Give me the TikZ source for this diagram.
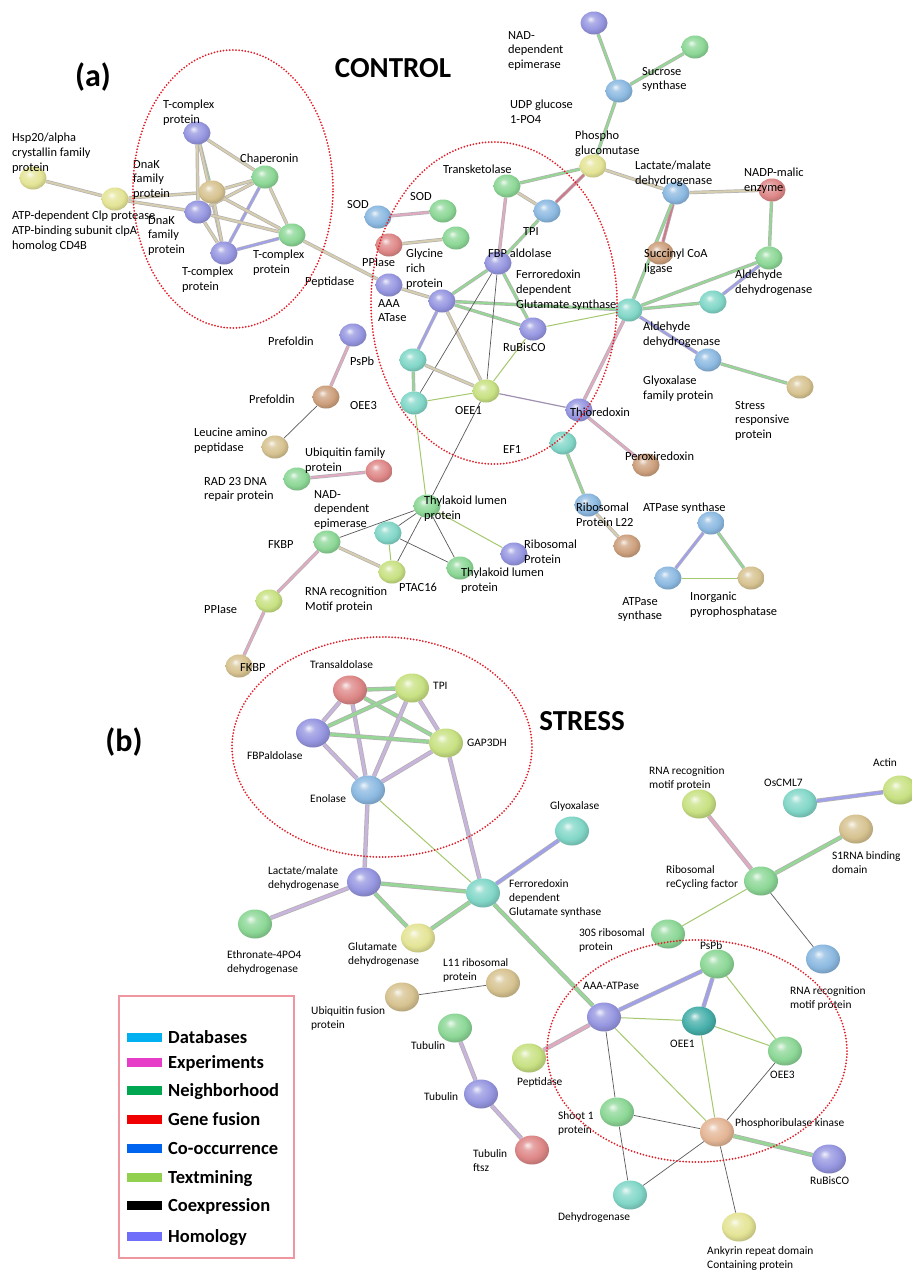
\documentclass[tikz,border=0pt]{standalone}
\usepackage{fontspec}
\setmainfont{Carlito}
\usetikzlibrary{shapes.geometric,backgrounds}
\definecolor{cblue}{RGB}{150,150,225}
\definecolor{cgreen}{RGB}{140,215,150}
\definecolor{cyelgr}{RGB}{200,225,130}
\definecolor{cpaleyel}{RGB}{228,228,150}
\definecolor{ctan}{RGB}{215,195,145}
\definecolor{cred}{RGB}{222,135,135}
\definecolor{clblue}{RGB}{140,185,225}
\definecolor{ccyan}{RGB}{130,215,200}
\definecolor{cbrown}{RGB}{205,160,125}
\definecolor{cpeach}{RGB}{228,182,150}
\definecolor{cteal}{RGB}{70,175,170}
\definecolor{bgreen}{RGB}{150,215,150}
\definecolor{bpink}{RGB}{225,170,195}
\definecolor{bblue}{RGB}{160,160,235}
\definecolor{bbeige}{RGB}{215,205,175}
\definecolor{bmix}{RGB}{200,180,220}
\definecolor{bred}{RGB}{210,120,140}
\definecolor{tgreen}{RGB}{165,200,110}
\definecolor{lgdb}{RGB}{0,176,240}
\definecolor{lgex}{RGB}{230,60,200}
\definecolor{lgnb}{RGB}{0,166,80}
\definecolor{lggf}{RGB}{240,0,0}
\definecolor{lgco}{RGB}{0,100,240}
\definecolor{lgtm}{RGB}{146,208,80}
\definecolor{lghm}{RGB}{110,110,250}
\definecolor{legb}{RGB}{240,150,160}
\definecolor{dotred}{RGB}{225,30,40}
\colorlet{sbcol}{gray}
\pgfdeclareradialshading[sbcol]{sball}{\pgfpoint{-7bp}{9bp}}{color(0bp)=(sbcol!15!white); color(8bp)=(sbcol!75!white); color(20bp)=(sbcol); color(28bp)=(sbcol!85!black); color(50bp)=(sbcol!62!black)}
\newcommand{\ctlfont}{\fontsize{12.4}{14.7}\selectfont}
\newcommand{\strfont}{\fontsize{11.4}{13.9}\selectfont}
\begin{document}
\begin{tikzpicture}[x=1pt,y=-1pt,
  bl/.style={ellipse, minimum width=27pt, minimum height=23pt, inner sep=0pt, shading=sball, /utils/exec={\colorlet{sbcol}{#1}}},
  sb/.style={bl=#1, minimum width=34pt, minimum height=29pt},
  lab/.style={anchor=north west, inner sep=0pt, align=left, font=\ctlfont},
  slab/.style={lab, font=\strfont},
  ek/.style={draw=black!30, line width=0.7pt, double=#1, double distance=2pt},
  ekk/.style={draw=black!30, line width=0.8pt, double=#1, double distance=2.8pt},
  et/.style={draw=black!65, line width=0.7pt},
  eg/.style={draw=tgreen, line width=1pt},
  redd/.style={draw=dotred, line width=2pt, line cap=round, dash pattern=on 0pt off 3.1pt},
  legt/.style={anchor=base west, inner sep=0pt, font=\fontsize{18.5}{20}\selectfont\bfseries},
  legk/.style={fill=#1, minimum width=35pt, minimum height=9pt, inner sep=0pt, anchor=west}]
\useasboundingbox (0,0) rectangle (912,1272);

% ---------- control balls ----------
\node[bl=cpaleyel] (hsp) at (33,178) {};
\node[bl=cpaleyel] (clp) at (115,199) {};
\node[bl=cblue] (tct) at (197,133) {};
\node[bl=cgreen] (chap) at (265,177) {};
\node[bl=ctan] (dnkA) at (212,192) {};
\node[bl=cblue] (dnkB) at (198,212) {};
\node[bl=cblue] (tcb) at (224,253) {};
\node[bl=cgreen] (tcr) at (292,235) {};
\node[bl=clblue] (sodA) at (378,217) {};
\node[bl=cgreen] (sodB) at (443,211) {};
\node[bl=cred] (ppi) at (389,245) {};
\node[bl=cgreen] (gly) at (456,238) {};
\node[bl=cblue] (aaa) at (389,285) {};
\node[bl=cblue] (hubA) at (442,301) {};
\node[bl=cblue] (fbp) at (498,263) {};
\node[bl=cgreen] (tkl) at (507,186) {};
\node[bl=clblue] (tpi) at (547,211) {};
\node[bl=cpaleyel] (pgm) at (593,166) {};
\node[bl=cblue] (nadt) at (594,23) {};
\node[bl=cgreen] (sucr) at (695,47) {};
\node[bl=clblue] (udp) at (619,91) {};
\node[bl=clblue] (lact) at (676,193) {};
\node[bl=cred] (nadp) at (772,190) {};
\node[bl=cbrown] (succ) at (660,253) {};
\node[bl=cgreen] (aldA) at (769,258) {};
\node[bl=ccyan] (aldB) at (713,302) {};
\node[bl=ccyan] (fgs) at (629,310) {};
\node[bl=cblue] (rub) at (533,329) {};
\node[bl=ccyan] (gA) at (413,360) {};
\node[bl=ccyan] (gB) at (414,403) {};
\node[bl=cyelgr] (oee1) at (486,391) {};
\node[bl=clblue] (glyx) at (708,360) {};
\node[bl=ctan] (strp) at (800,387) {};
\node[bl=cblue] (thio) at (579,410) {};
\node[bl=ccyan] (ef1) at (563,443) {};
\node[bl=cbrown] (perx) at (646,465) {};
\node[bl=clblue] (rl22) at (588,505) {};
\node[bl=cbrown] (rbr) at (627,546) {};
\node[bl=cblue] (pspb) at (353,335) {};
\node[bl=cbrown] (oee3) at (326,397) {};
\node[bl=ctan] (leu) at (275,447) {};
\node[bl=cgreen] (ubg) at (297,479) {};
\node[bl=cred] (ubr) at (379,471) {};
\node[bl=cgreen] (nad2) at (327,542) {};
\node[bl=cgreen] (thy) at (427,506) {};
\node[bl=ccyan] (cyb) at (388,533) {};
\node[bl=cyelgr] (ptac) at (392,572) {};
\node[bl=cgreen] (thy2) at (460,568) {};
\node[bl=cblue] (ribp) at (514,554) {};
\node[bl=cyelgr] (ppi2) at (269,601) {};
\node[bl=ctan] (fkbp) at (239,666) {};
\node[bl=clblue] (atpT) at (711,523) {};
\node[bl=clblue] (atpL) at (668,578) {};
\node[bl=ctan] (atpR) at (751,578) {};

% ---------- stress balls ----------
\node[sb=cred] (tald) at (350,690) {};
\node[sb=cyelgr] (stpi) at (412,688) {};
\node[sb=cblue] (fbpa) at (313,733) {};
\node[sb=cyelgr] (gap) at (446,743) {};
\node[sb=clblue] (enol) at (368,790) {};
\node[sb=ccyan] (sglx) at (572,831) {};
\node[sb=cblue] (slac) at (364,882) {};
\node[sb=ccyan] (sfgs) at (483,893) {};
\node[sb=cgreen] (ethr) at (255,924) {};
\node[sb=cpaleyel] (glud) at (418,938) {};
\node[sb=ctan] (l11) at (503,983) {};
\node[sb=ctan] (ubf) at (402,997) {};
\node[sb=cgreen] (tubA) at (455,1028) {};
\node[sb=cblue] (tubB) at (481,1094) {};
\node[sb=cred] (tubC) at (532,1150) {};
\node[sb=cyelgr] (spep) at (529,1058) {};
\node[sb=cblue] (saaa) at (604,1017) {};
\node[sb=cteal] (soee1) at (699,1021) {};
\node[sb=cgreen] (soee3) at (785,1051) {};
\node[sb=cgreen] (spspb) at (717,964) {};
\node[sb=cgreen] (shoot) at (617,1112) {};
\node[sb=cpeach] (prk) at (717,1132) {};
\node[sb=cblue] (srub) at (829,1159) {};
\node[sb=ccyan] (sdeh) at (630,1195) {};
\node[sb=cpaleyel] (ank) at (739,1227) {};
\node[sb=cyelgr] (rrmA) at (699,804) {};
\node[sb=ccyan] (osc) at (800,803) {};
\node[sb=cyelgr] (act) at (900,790) {};
\node[sb=ctan] (sone) at (856,829) {};
\node[sb=cgreen] (rrf) at (761,881) {};
\node[sb=cgreen] (sthirty) at (668,934) {};
\node[sb=clblue] (rrmB) at (823,959) {};

% ---------- connectors ----------
\begin{pgfonlayer}{background}
\fill[white] (0,0) rectangle (912,1272);
\draw[ek=bbeige] (hsp) -- (clp);
\draw[ek=bbeige] (clp) -- (dnkA);
\draw[ek=bbeige] (clp) -- (dnkB);
\draw[ek=bbeige] (tct) -- (chap);
\draw[ek=bgreen] (tct) -- (dnkA);
\draw[ek=bbeige] (tct) -- (dnkB);
\draw[ek=bbeige] (tct) -- (tcb);
\draw[ek=bbeige] (chap) -- (dnkA);
\draw[ek=bbeige] (chap) -- (dnkB);
\draw[ek=bblue] (chap) -- (tcb);
\draw[ek=bbeige] (chap) -- (tcr);
\draw[ek=bbeige] (dnkA) -- (dnkB);
\draw[ek=bbeige] (dnkA) -- (tcb);
\draw[ek=bbeige] (dnkA) -- (tcr);
\draw[ek=bbeige] (dnkB) -- (tcb);
\draw[ek=bbeige] (dnkB) -- (tcr);
\draw[ek=bblue] (tcb) -- (tcr);
\draw[ek=bbeige] (tcr) -- (aaa);
\draw[ek=bbeige] (aaa) -- (hubA);
\draw[ek=bpink] (sodA) -- (sodB);
\draw[ek=bbeige] (ppi) -- (gly);
\draw[ek=bgreen] (hubA) -- (fbp);
\draw[ek=bgreen] (hubA) -- (fgs);
\draw[ek=bgreen] (hubA) -- (rub);
\draw[ek=bblue] (hubA) -- (gA);
\draw[ek=bbeige] (hubA) -- (oee1);
\draw[ek=bpink] (fbp) -- (tkl);
\draw[ek=bgreen] (fbp) -- (tpi);
\draw[ek=bgreen] (fbp) -- (rub);
\draw[et] (fbp) -- (gB);
\draw[et] (fbp) -- (oee1);
\draw[ek=bbeige] (tkl) -- (tpi);
\draw[ek=bgreen] (tkl) -- (pgm);
\draw[ek=bred] (tpi) -- (pgm);
\draw[ek=bgreen] (pgm) -- (udp);
\draw[ek=bgreen] (udp) -- (nadt);
\draw[ek=bgreen] (udp) -- (sucr);
\draw[ek=bbeige] (pgm) -- (lact);
\draw[ek=bbeige] (lact) -- (nadp);
\draw[ek=bred] (lact) -- (succ);
\draw[ek=bgreen] (lact) -- (fgs);
\draw[ek=bgreen] (nadp) -- (aldA);
\draw[ek=bgreen] (aldA) -- (fgs);
\draw[ek=bblue] (aldA) -- (aldB);
\draw[ek=bgreen] (aldB) -- (fgs);
\draw[eg] (fgs) -- (rub);
\draw[ek=bpink] (fgs) -- (thio);
\draw[ek=bblue] (fgs) -- (glyx);
\draw[ek=bgreen] (glyx) -- (strp);
\draw[draw=bmix!80!black, line width=1.2pt] (thio) -- (oee1);
\draw[ek=bpink] (thio) -- (perx);
\draw[ek=bgreen] (ef1) -- (rl22);
\draw[ek=bbeige] (rl22) -- (rbr);
\draw[ek=bgreen] (gA) -- (gB);
\draw[ek=bbeige] (gA) -- (oee1);
\draw[eg] (gB) -- (oee1);
\draw[eg] (rub) -- (oee1);
\draw[eg] (gB) -- (thy);
\draw[et] (oee1) -- (thy);
\draw[et] (thy) -- (cyb);
\draw[et] (thy) -- (ptac);
\draw[et] (thy) -- (thy2);
\draw[eg] (thy) -- (ribp);
\draw[et] (thy) -- (nad2);
\draw[eg] (cyb) -- (ptac);
\draw[et] (cyb) -- (thy2);
\draw[ek=bbeige] (nad2) -- (ptac);
\draw[ek=bpink] (nad2) -- (ppi2);
\draw[ek=bpink] (ppi2) -- (fkbp);
\draw[ek=bpink] (pspb) -- (oee3);
\draw[et] (oee3) -- (leu);
\draw[ek=bpink] (ubg) -- (ubr);
\draw[ek=bblue] (atpT) -- (atpL);
\draw[ek=bgreen] (atpT) -- (atpR);
\draw[eg] (atpL) -- (atpR);
% stress
\draw[ekk=bgreen] (tald) -- (stpi);
\draw[ekk=bmix] (tald) -- (fbpa);
\draw[ekk=bgreen] (tald) -- (gap);
\draw[ekk=bmix] (tald) -- (enol);
\draw[ekk=bgreen] (stpi) -- (fbpa);
\draw[ekk=bmix] (stpi) -- (gap);
\draw[ekk=bmix] (stpi) -- (enol);
\draw[ekk=bgreen] (fbpa) -- (gap);
\draw[ekk=bmix] (fbpa) -- (enol);
\draw[ekk=bmix] (gap) -- (enol);
\draw[ekk=bmix] (gap) -- (sfgs);
\draw[ekk=bmix] (enol) -- (slac);
\draw[eg] (enol) -- (sfgs);
\draw[ekk=bgreen] (slac) -- (sfgs);
\draw[ekk=bmix] (slac) -- (ethr);
\draw[ekk=bgreen] (slac) -- (glud);
\draw[ekk=bgreen] (glud) -- (sfgs);
\draw[ekk=bblue] (sfgs) -- (sglx);
\draw[ekk=bgreen] (sfgs) -- (saaa);
\draw[ekk=bpink] (saaa) -- (spep);
\draw[ekk=bblue] (saaa) -- (spspb);
\draw[eg] (saaa) -- (soee1);
\draw[eg] (saaa) -- (prk);
\draw[et] (saaa) -- (shoot);
\draw[ekk=bblue] (soee1) -- (spspb);
\draw[eg] (soee1) -- (soee3);
\draw[eg] (soee1) -- (prk);
\draw[eg] (spspb) -- (soee3);
\draw[et] (soee3) -- (prk);
\draw[et] (shoot) -- (prk);
\draw[et] (shoot) -- (sdeh);
\draw[et] (prk) -- (sdeh);
\draw[et] (prk) -- (ank);
\draw[ekk=bgreen] (prk) -- (srub);
\draw[ekk=bpink] (rrf) -- (rrmA);
\draw[ekk=bgreen] (rrf) -- (sone);
\draw[eg] (rrf) -- (sthirty);
\draw[et] (rrf) -- (rrmB);
\draw[ekk=bblue] (osc) -- (act);
\draw[et] (l11) -- (ubf);
\draw[ekk=bmix] (tubA) -- (tubB);
\draw[ekk=bmix] (tubB) -- (tubC);
\end{pgfonlayer}

% ---------- control labels ----------
\node[lab] (L1) at (12,133) {Hsp20/alpha\\crystallin family\\protein};
\node[lab] (L2) at (12,211) {ATP-dependent Clp protease\\ATP-binding subunit clpA\\homolog CD4B};
\node[lab] (L3) at (163,100) {T-complex\\protein};
\node[lab] (L4) at (240,154) {Chaperonin};
\node[lab] (L5) at (133,160) {DnaK\\family\\protein};
\node[lab] (L6) at (148,216) {DnaK\\family\\protein};
\node[lab] (L7) at (182,267) {T-complex\\protein};
\node[lab] (L8) at (253,250) {T-complex\\protein};
\node[lab] (L9) at (305,277) {Peptidase};
\node[lab] (L10) at (347,200) {SOD};
\node[lab] (L11) at (410,192) {SOD};
\node[lab] (L12) at (362,258) {PPIase};
\node[lab] (L13) at (406,249) {Glycine\\rich\\protein};
\node[lab] (L14) at (378,299) {AAA\\ATase};
\node[lab] (L15) at (508,31) {NAD-\\dependent\\epimerase};
\node[lab] (L16) at (642,67) {Sucrose\\synthase};
\node[lab] (L17) at (510,100) {UDP glucose\\1-PO4};
\node[lab] (L18) at (575,131) {Phospho\\glucomutase};
\node[lab] (L19) at (443,165) {Transketolase};
\node[lab] (L20) at (523,227) {TPI};
\node[lab] (L21) at (488,249) {FBP aldolase};
\node[lab] (L22) at (516,270) {Ferroredoxin\\dependent\\Glutamate synthase};
\node[lab] (L23) at (635,161) {Lactate/malate\\dehydrogenase};
\node[lab] (L24) at (744,168) {NADP-malic\\enzyme};
\node[lab] (L25) at (644,249) {Succinyl CoA\\ligase};
\node[lab] (L26) at (735,270) {Aldehyde\\dehydrogenase};
\node[lab] (L27) at (643,322) {Aldehyde\\dehydrogenase};
\node[lab] (L28) at (503,343) {RuBisCO};
\node[lab] (L29) at (643,376) {Glyoxalase\\family protein};
\node[lab] (L30) at (735,401) {Stress\\responsive\\protein};
\node[lab] (L31) at (570,408) {Thioredoxin};
\node[lab] (L32) at (503,445) {EF1};
\node[lab] (L33) at (625,452) {Peroxiredoxin};
\node[lab] (L34) at (576,503) {Ribosomal\\Protein L22};
\node[lab] (L35) at (643,503) {ATPase synthase};
\node[lab, align=center, anchor=north] (L36) at (640,597) {ATPase\\synthase};
\node[lab] (L37) at (690,592) {Inorganic\\pyrophosphatase};
\node[lab] (L38) at (268,337) {Prefoldin};
\node[lab] (L39) at (350,357) {PsPb};
\node[lab] (L40) at (249,395) {Prefoldin};
\node[lab] (L41) at (350,401) {OEE3};
\node[lab] (L42) at (455,406) {OEE1};
\node[lab] (L43) at (194,428) {Leucine amino\\peptidase};
\node[lab] (L44) at (305,448) {Ubiquitin family\\protein};
\node[lab] (L45) at (204,477) {RAD 23 DNA\\repair protein};
\node[lab] (L46) at (314,490) {NAD-\\dependent\\epimerase};
\node[lab] (L47) at (268,540) {FKBP};
\node[lab] (L48) at (424,496) {Thylakoid lumen\\protein};
\node[lab] (L49) at (399,583) {PTAC16};
\node[lab] (L50) at (461,568) {Thylakoid lumen\\protein};
\node[lab] (L51) at (524,540) {Ribosomal\\Protein};
\node[lab] (L52) at (305,587) {RNA recognition\\Motif protein};
\node[lab] (L53) at (204,605) {PPIase};
\node[lab] (L54) at (240,663) {FKBP};

% ---------- stress labels ----------
\node[slab] (M1) at (310,660.5) {Transaldolase};
\node[slab] (M2) at (433,681.5) {TPI};
\node[slab] (M3) at (247,751.5) {FBPaldolase};
\node[slab] (M4) at (467,738.5) {GAP3DH};
\node[slab] (M5) at (310,794.5) {Enolase};
\node[slab] (M6) at (550,801.5) {Glyoxalase};
\node[slab] (M7) at (268,866.5) {Lactate/malate\\dehydrogenase};
\node[slab] (M8) at (509,879.5) {Ferroredoxin\\dependent\\Glutamate synthase};
\node[slab] (M9) at (227,950.5) {Ethronate-4PO4\\dehydrogenase};
\node[slab] (M10) at (348,942.5) {Glutamate\\dehydrogenase};
\node[slab] (M11) at (443,958.5) {L11 ribosomal\\protein};
\node[slab] (M12) at (311,1006.5) {Ubiquitin fusion\\protein};
\node[slab] (M13) at (411,1041.5) {Tubulin};
\node[slab] (M14) at (424,1092.5) {Tubulin};
\node[slab] (M15) at (473,1149.5) {Tubulin\\ftsz};
\node[slab] (M16) at (517,1077.5) {Peptidase};
\node[slab] (M17) at (583,981.5) {AAA-ATPase};
\node[slab] (M18) at (670,1039.5) {OEE1};
\node[slab] (M19) at (770,1070.5) {OEE3};
\node[slab] (M20) at (700,941.5) {PsPb};
\node[slab] (M21) at (558,1111.5) {Shoot 1\\protein};
\node[slab] (M22) at (735,1118.5) {Phosphoribulase kinase};
\node[slab] (M23) at (810,1176.5) {RuBisCO};
\node[slab] (M24) at (558,1212.5) {Dehydrogenase};
\node[slab] (M25) at (707,1246.5) {Ankyrin repeat domain\\Containing protein};
\node[slab] (M26) at (649,766.5) {RNA recognition\\motif protein};
\node[slab] (M27) at (764,778.5) {OsCML7};
\node[slab] (M28) at (873,758.5) {Actin};
\node[slab] (M29) at (832,851.5) {S1RNA binding\\domain};
\node[slab] (M30) at (666,865.5) {Ribosomal\\reCycling factor};
\node[slab] (M31) at (579,928.5) {30S ribosomal\\protein};
\node[slab] (M32) at (790,986.5) {RNA recognition\\motif protein};

% ---------- titles ----------
\node[font=\fontsize{32}{36}\selectfont\bfseries] (ta) at (93,77) {(a)};
\node[font=\fontsize{29}{34}\selectfont\bfseries] (tc) at (393,68) {CONTROL};
\node[font=\fontsize{32}{36}\selectfont\bfseries] (tb) at (124,742) {(b)};
\node[font=\fontsize{29}{34}\selectfont\bfseries] (ts) at (582,721) {STRESS};

% ---------- legend ----------
\node[draw=legb, line width=1.6pt, minimum width=175pt, minimum height=262pt, anchor=north west, inner sep=0pt] (leg) at (118,995) {};
\node[legk=lgdb] (k1) at (127,1037) {};
\node[legt] (t1) at (168,1043.5) {Databases};
\node[legk=lgex] (k2) at (127,1062) {};
\node[legt] (t2) at (168,1068.5) {Experiments};
\node[legk=lgnb] (k3) at (127,1090) {};
\node[legt] (t3) at (168,1096.5) {Neighborhood};
\node[legk=lggf] (k4) at (127,1119) {};
\node[legt] (t4) at (168,1125.5) {Gene fusion};
\node[legk=lgco] (k5) at (127,1148) {};
\node[legt] (t5) at (168,1154.5) {Co-occurrence};
\node[legk=lgtm] (k6) at (127,1177) {};
\node[legt] (t6) at (168,1183.5) {Textmining};
\node[legk=black] (k7) at (127,1205) {};
\node[legt] (t7) at (168,1211.5) {Coexpression};
\node[legk=lghm] (k8) at (127,1236) {};
\node[legt] (t8) at (168,1242.5) {Homology};

% ---------- dotted cluster outlines ----------
\draw[redd] (233,189) ellipse [x radius=100pt, y radius=139pt];
\draw[redd] (494,303) ellipse [x radius=123pt, y radius=161pt];
\draw[redd] (382,747) ellipse [x radius=150pt, y radius=110pt];
\draw[redd] (697,1051) ellipse [x radius=150pt, y radius=111pt];
\end{tikzpicture}
\end{document}
